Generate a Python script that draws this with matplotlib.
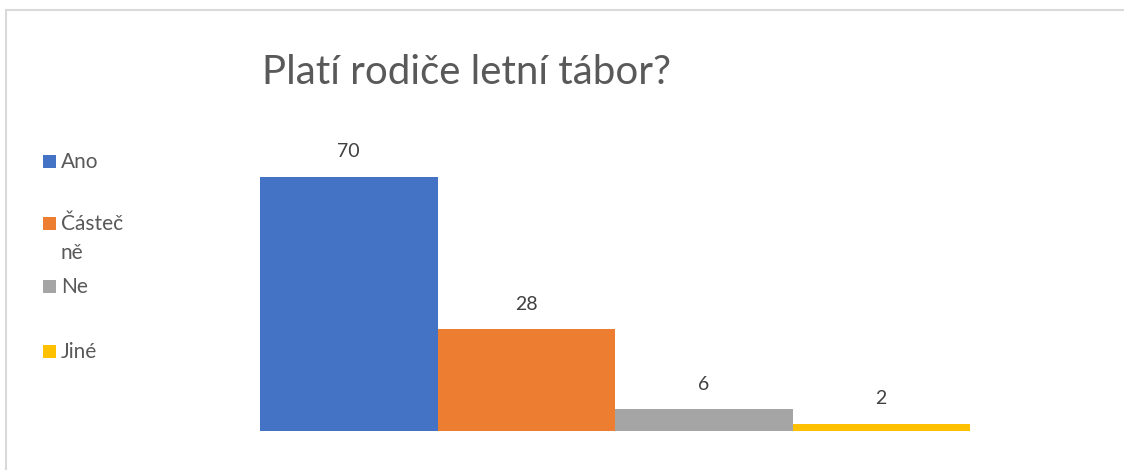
import matplotlib
matplotlib.use("Agg")
import matplotlib.pyplot as plt
from matplotlib.patches import Rectangle
from matplotlib.lines import Line2D

categories = ["Ano", "Částeč\nně", "Ne", "Jiné"]
values = [70, 28, 6, 2]
colors = ["#4472C4", "#ED7D31", "#A5A5A5", "#FFC000"]
title = "Platí rodiče letní tábor?"

plt.rcParams['font.family'] = ['Lato', 'DejaVu Sans']
W, H = 1124, 470
fig = plt.figure(figsize=(W / 100, H / 100), dpi=100)

# chart border (top and left visible)
fig.add_artist(Line2D([6.5 / W, 6.5 / W], [0, 1 - 9.5 / H], color="#D9D9D9", lw=1.5, transform=fig.transFigure))
fig.add_artist(Line2D([6.5 / W, 1], [1 - 9.5 / H, 1 - 9.5 / H], color="#D9D9D9", lw=1.5, transform=fig.transFigure))

ax = fig.add_axes([260 / W, (H - 431) / H, 710 / W, 290.4 / H])
x = list(range(len(values)))
ax.bar(x, values, width=1.0, color=colors)
ax.set_xlim(-0.5, len(values) - 0.5)
ax.set_ylim(0, 80)
ax.axis("off")
for xi, v in zip(x, values):
    ax.annotate(str(v), (xi, v), xytext=(0, 18), textcoords="offset points",
                ha="center", va="center", fontsize=14, color="#404040")

fig.text(467 / W, 1 - 73 / H, title, ha="center", va="center", fontsize=29,
         color="#595959")

# legend
leg_y = [161, 223, 286, 351]
for cat, col, yy in zip(categories, colors, leg_y):
    fig.add_artist(Rectangle((43 / W, 1 - (yy + 6.5) / H), 13 / W, 13 / H,
                             facecolor=col, edgecolor="none", transform=fig.transFigure))
    fig.text(61 / W, 1 - (yy - 9) / H, cat, ha="left", va="top", fontsize=15,
             color="#595959", linespacing=1.55)

fig.savefig("out.png", dpi=100)
